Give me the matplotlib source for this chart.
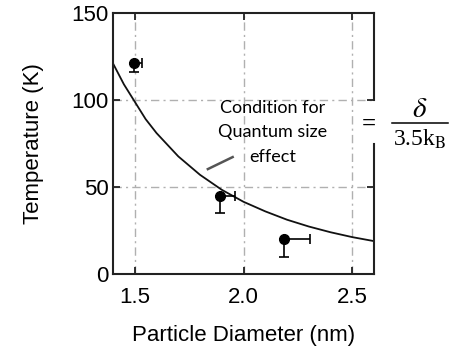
import matplotlib
matplotlib.use("Agg")
import matplotlib.pyplot as plt
from matplotlib.lines import Line2D
import numpy as np

plt.rcParams['font.family'] = ['Liberation Sans', 'DejaVu Sans']
plt.rcParams['mathtext.fontset'] = 'stix'

# measured points (diameter nm, temperature K) with one-sided error bars
d_pts = [1.495, 1.89, 2.185]
T_pts = [121, 45, 20]
x_err_right = [0.04, 0.07, 0.12]
y_err_down = [5, 10, 10]

# theoretical condition curve
d_curve = [1.40, 1.45, 1.50, 1.55, 1.60, 1.70, 1.80, 1.90, 2.00, 2.10, 2.20, 2.30, 2.40, 2.50, 2.60]
T_curve = [121, 109, 99, 89, 81, 67.6, 57, 48.4, 41.5, 36, 31.2, 27.3, 24, 21.2, 18.9]

x_ticks = [1.5, 2.0, 2.5]
x_ticklabels = ['1.5', '2.0', '2.5']
y_ticks = [0, 50, 100, 150]

fig = plt.figure(figsize=(4.6, 3.56), dpi=100)
ax = fig.add_axes([0.2457, 0.2303, 0.5674, 0.7332])

ax.set_xlim(1.4, 2.6)
ax.set_ylim(0, 150)

# grid
grid_kw = dict(color='#b0b0b0', lw=1.0, dashes=(6, 3, 1.5, 3), zorder=0)
for xv in x_ticks:
    ax.axvline(xv, **grid_kw)
for yv in [50, 100]:
    ax.axhline(yv, **grid_kw)

ax.plot(d_curve, T_curve, color='#111111', lw=1.3, zorder=2)

ax.errorbar(d_pts, T_pts,
            xerr=[np.zeros(3), x_err_right],
            yerr=[y_err_down, np.zeros(3)],
            fmt='o', color='black', ms=7, elinewidth=1.2, capsize=3.5,
            capthick=1.2, zorder=3)

# leader line for annotation
ax.plot([1.836, 1.95], [60.3, 67.2], color='#555555', lw=1.8, zorder=2)
ax.text(2.134, 81.5, 'Condition for\nQuantum size\neffect', fontsize=13,
        family=['Lato', 'DejaVu Sans'], ha='center', va='center',
        linespacing=1.65, zorder=4)

ax.set_xticks(x_ticks)
ax.set_xticklabels(x_ticklabels)
ax.set_yticks(y_ticks)
ax.tick_params(direction='in', length=5, width=1.3, labelsize=16,
               top=True, right=True, color='#222222')
ax.tick_params(axis='x', pad=9)
ax.tick_params(axis='y', pad=3)

for s in ['left', 'bottom', 'top', 'right']:
    ax.spines[s].set_linewidth(1.5)
    ax.spines[s].set_color('#222222')
# right spine with a gap where the formula sits
ax.spines['right'].set_bounds(0, 75)
ax.axvline(2.6, ymin=100 / 150, ymax=1.0, color='#222222', lw=1.5, clip_on=False)

ax.set_xlabel('Particle Diameter (nm)', fontsize=16)
ax.set_ylabel('Temperature (K)', fontsize=16)
ax.xaxis.set_label_coords(0.5, -0.195)
ax.yaxis.set_label_coords(-0.266, 0.5)

# formula  = delta / 3.5 k_B  outside the right edge
W, H = 460.0, 356.0
fig.text(369 / W, 1 - 124 / H, '=', fontsize=18, family='Liberation Serif',
         weight='bold', ha='center', va='center')
fig.text(420 / W, 1 - 109 / H, r'$\delta$', fontsize=21, ha='center', va='center')
fig.add_artist(Line2D([392 / W, 448 / W], [1 - 123 / H, 1 - 123 / H],
                      transform=fig.transFigure, color='black', lw=1.1))
fig.text(420 / W, 1 - 139 / H, r'3.5k$_\mathrm{B}$', fontsize=17,
         family='Liberation Serif', ha='center', va='center')

fig.savefig('out.png', dpi=100)
